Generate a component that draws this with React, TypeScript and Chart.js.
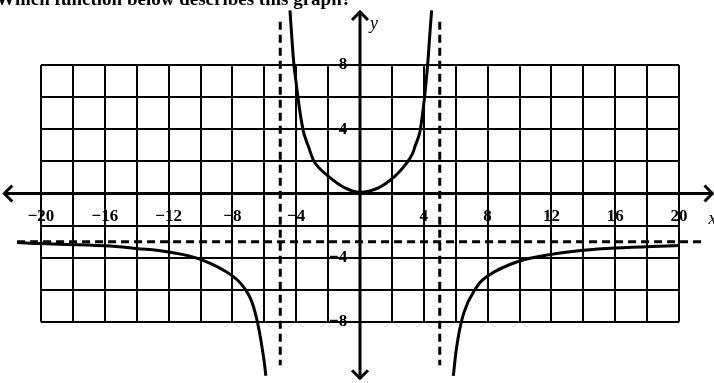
import React, { useEffect, useRef } from 'react';
import { Chart, registerables } from 'chart.js';
Chart.register(...registerables);

const TITLE = 'Which function below describes this graph?';
const X_TICK_LABELS = [-20, -16, -12, -8, -4, 4, 8, 12, 16, 20];
const Y_TICK_LABELS = [-8, -4, 4, 8];

// middle branch (between the vertical asymptotes)
const midX = [-4.39, -4.28, -4.14, -3.98, -3.87, -3.72, -3.55, -3.4, -3.24, -2.82, -1.99, -0.94, 0, 1.15, 2.19, 2.93, 3.3, 3.45, 3.62, 3.76, 3.9, 4.03, 4.24, 4.37, 4.49];
const midY = [11.4, 9.8, 8.0, 6.7, 5.84, 4.8, 3.87, 3.38, 2.94, 1.9, 1.08, 0.35, 0.08, 0.35, 1.08, 1.9, 2.5, 2.94, 3.38, 3.87, 4.8, 5.84, 8.0, 9.8, 11.4];

// left outer branch
const leftX = [-21.5, -20, -16, -14, -12, -10, -8, -7, -6.48, -6.06, -5.9];
const leftY = [-3.05, -3.12, -3.25, -3.42, -3.64, -4.1, -5.13, -6.27, -7.8, -10.1, -11.35];

// right outer branch
const rightX = [5.85, 6.1, 6.52, 7.15, 8, 10, 12, 14, 16, 20, 21.57];
const rightY = [-11.35, -9.3, -7.4, -6.07, -5.13, -4.2, -3.79, -3.54, -3.4, -3.23, -3.15];

// asymptotes
const V_ASYMPTOTES = [-5, 5];
const V_ASYM_Y = [10.7, -10.7];
const H_ASYMPTOTE = -3;
const H_ASYM_X = [-21.5, 21.6];

// axis extents (with arrows)
const AXIS_X_RANGE = [-22.3, 22.1];
const AXIS_Y_RANGE = [11.3, -11.5];

const SERIF = '"Liberation Serif", "Times New Roman", serif';

const toPts = (xs: number[], ys: number[]) => xs.map((x, i) => ({ x, y: ys[i] }));
const fmt = (v: number) => (v < 0 ? '\u2212' + Math.abs(v) : String(v));

const axesPlugin = {
  id: 'axesDecor',
  afterDraw(chart: any) {
    const { ctx } = chart;
    const xs = chart.scales.x;
    const ys = chart.scales.y;
    const y0 = ys.getPixelForValue(0);
    const x0 = xs.getPixelForValue(0);
    const xl = xs.getPixelForValue(AXIS_X_RANGE[0]);
    const xr = xs.getPixelForValue(AXIS_X_RANGE[1]);
    const yt = ys.getPixelForValue(AXIS_Y_RANGE[0]);
    const yb = ys.getPixelForValue(AXIS_Y_RANGE[1]);
    ctx.save();
    ctx.strokeStyle = '#000';
    ctx.lineWidth = 3;
    ctx.lineCap = 'butt';
    ctx.beginPath();
    ctx.moveTo(xl, y0); ctx.lineTo(xr, y0);
    ctx.moveTo(x0, yt); ctx.lineTo(x0, yb);
    ctx.stroke();
    // arrow heads
    const a = 8;
    ctx.lineWidth = 3;
    ctx.lineJoin = 'miter';
    ctx.beginPath();
    ctx.moveTo(xl + a, y0 - a); ctx.lineTo(xl, y0); ctx.lineTo(xl + a, y0 + a);
    ctx.moveTo(xr - a, y0 - a); ctx.lineTo(xr, y0); ctx.lineTo(xr - a, y0 + a);
    ctx.moveTo(x0 - a, yt + a); ctx.lineTo(x0, yt); ctx.lineTo(x0 + a, yt + a);
    ctx.moveTo(x0 - a, yb - a); ctx.lineTo(x0, yb); ctx.lineTo(x0 + a, yb - a);
    ctx.stroke();
    // axis names
    ctx.fillStyle = '#000';
    ctx.font = `italic 18px ${SERIF}`;
    ctx.textBaseline = 'middle';
    ctx.textAlign = 'left';
    ctx.fillText('x', xr - 4, y0 + 26);
    ctx.fillText('y', x0 + 10, yt + 12);
    // title (partly cut off at the top)
    ctx.font = `bold 19px ${SERIF}`;
    ctx.textBaseline = 'alphabetic';
    ctx.fillText(TITLE, -4, 5);
    ctx.restore();
  },
};

export default function App() {
  const ref = useRef<HTMLCanvasElement | null>(null);
  useEffect(() => {
    if (!ref.current) return;
    const dashStyle = {
      borderColor: '#000',
      borderWidth: 3,
      borderDash: [8, 5],
      pointRadius: 0,
      showLine: true,
      clip: false as any,
    };
    const curveStyle = {
      borderColor: '#000',
      borderWidth: 3,
      pointRadius: 0,
      showLine: true,
      tension: 0.4,
      clip: false as any,
    };
    const chart = new Chart(ref.current, {
      type: 'scatter',
      data: {
        datasets: [
          { label: 'x = -5', data: toPts([V_ASYMPTOTES[0], V_ASYMPTOTES[0]], V_ASYM_Y), ...dashStyle },
          { label: 'x = 5', data: toPts([V_ASYMPTOTES[1], V_ASYMPTOTES[1]], V_ASYM_Y), ...dashStyle },
          { label: 'y = -3', data: toPts(H_ASYM_X, [H_ASYMPTOTE, H_ASYMPTOTE]), ...dashStyle },
          { label: 'left', data: toPts(leftX, leftY), ...curveStyle },
          { label: 'middle', data: toPts(midX, midY), ...curveStyle },
          { label: 'right', data: toPts(rightX, rightY), ...curveStyle },
        ],
      },
      options: {
        animation: false,
        responsive: false,
        maintainAspectRatio: false,
        layout: { padding: { left: 41, right: 35, top: 65, bottom: 61 } },
        plugins: { legend: { display: false }, tooltip: { enabled: false }, title: { display: false } },
        elements: { line: { capBezierPoints: false } },
        scales: {
          x: {
            type: 'linear',
            min: -20,
            max: 20,
            position: { y: 0 } as any,
            border: { display: false },
            grid: { color: '#000', lineWidth: 2, drawTicks: true, tickLength: 4, tickColor: '#000' },
            ticks: {
              stepSize: 2,
              autoSkip: false,
              maxRotation: 0,
              padding: 9,
              color: '#000',
              font: { family: SERIF, size: 17, weight: 'bold' },
              callback: (v: any) => (X_TICK_LABELS.includes(Number(v)) ? fmt(Number(v)) : ''),
            },
          },
          y: {
            type: 'linear',
            min: -8,
            max: 8,
            position: { x: 0 } as any,
            border: { display: false },
            grid: { color: '#000', lineWidth: 2, drawTicks: true, tickLength: 4, tickColor: '#000' },
            ticks: {
              stepSize: 2,
              autoSkip: false,
              padding: 3,
              color: '#000',
              font: { family: SERIF, size: 17, weight: 'bold' },
              callback: (v: any) => (Y_TICK_LABELS.includes(Number(v)) ? fmt(Number(v)) + '\u2002 ' : ''),
            },
          },
        },
      },
      plugins: [axesPlugin],
    });
    return () => chart.destroy();
  }, []);
  return (
    <div style={{ position: 'fixed', left: 0, top: 0, width: 714, height: 383, background: '#fff' }}>
      <canvas ref={ref} width={714} height={383} style={{ width: 714, height: 383, display: 'block' }} />
    </div>
  );
}
